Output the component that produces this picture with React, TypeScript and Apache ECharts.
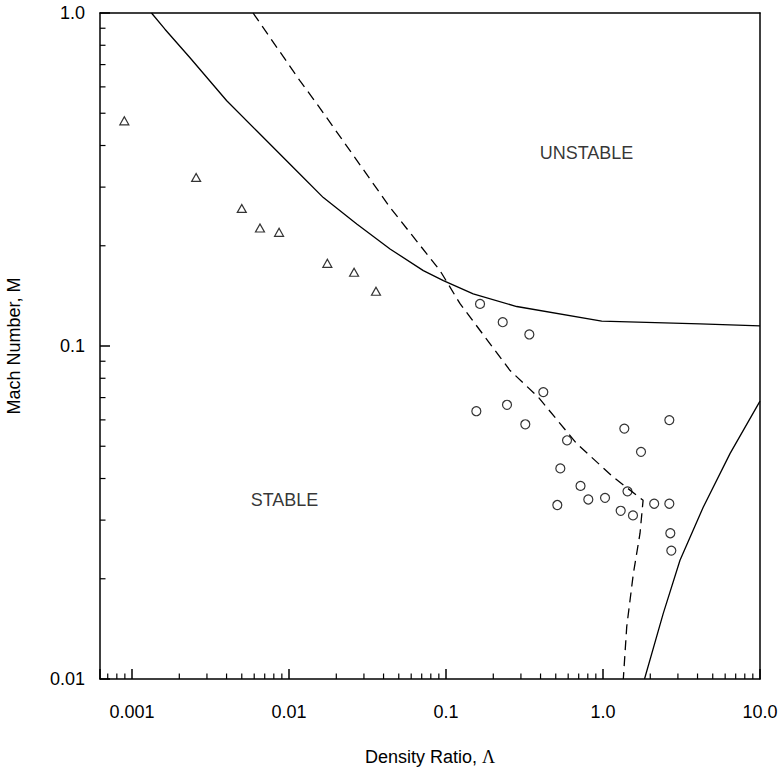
import React, { useEffect, useRef } from "react";
import * as echarts from "echarts";

// Axis ticks and labels
const xTickValues = [0.001, 0.01, 0.1, 1, 10];
const xTickLabels = ["0.001", "0.01", "0.1", "1.0", "10.0"];
const yTickValues = [0.01, 0.1, 1];
const yTickLabels = ["0.01", "0.1", "1.0"];
const xMinorTicks = [
  0.0007, 0.0008, 0.0009,
  0.002, 0.003, 0.004, 0.005, 0.006, 0.007, 0.008, 0.009,
  0.02, 0.03, 0.04, 0.05, 0.06, 0.07, 0.08, 0.09,
  0.2, 0.3, 0.4, 0.5, 0.6, 0.7, 0.8, 0.9,
  2, 3, 4, 5, 6, 7, 8, 9,
];
const yMinorTicks = [
  0.02, 0.03, 0.04, 0.05, 0.06, 0.07, 0.08, 0.09,
  0.2, 0.3, 0.4, 0.5, 0.6, 0.7, 0.8, 0.9,
];

// Upper solid boundary
const upperBoundary: [number, number][] = [
  [0.00133, 1.0], [0.00162, 0.894], [0.00234, 0.734], [0.00401, 0.545],
  [0.00622, 0.443], [0.01175, 0.328], [0.01654, 0.279], [0.027, 0.2325],
  [0.044, 0.1956], [0.0717, 0.1684], [0.0962, 0.1572], [0.149, 0.1434],
  [0.282, 0.1314], [0.981, 0.1187], [4.15, 0.1166], [10, 0.115],
];

// Dashed boundary
const dashedBoundary: [number, number][] = [
  [0.0059, 1.0], [0.01175, 0.6253], [0.01537, 0.5263], [0.044, 0.2607],
  [0.0916, 0.1684], [0.1228, 0.134], [0.256, 0.0844], [0.387, 0.0702],
  [0.68, 0.0509], [1.163, 0.0404], [1.8, 0.0344], [1.721, 0.0274],
  [1.56, 0.0207], [1.416, 0.01435], [1.347, 0.01],
];

// Lower-right solid boundary
const lowerBoundary: [number, number][] = [
  [1.838, 0.01], [2.42, 0.01574], [3.093, 0.02274], [4.355, 0.03286],
  [6.44, 0.0475], [10, 0.0683],
];

// Triangle data
const triangles: [number, number][] = [
  [0.000893, 0.4744], [0.00256, 0.3208], [0.005, 0.2589], [0.00653, 0.2262],
  [0.00864, 0.2194], [0.01754, 0.1771], [0.02596, 0.1665], [0.0358, 0.146],
];

// Circle data
const circles: [number, number][] = [
  [0.1647, 0.1338], [0.2297, 0.1179], [0.3394, 0.1083], [0.4166, 0.0727],
  [0.156, 0.0637], [0.2446, 0.0666], [0.3199, 0.0582], [0.59, 0.0521],
  [1.367, 0.0565], [2.645, 0.0599], [1.746, 0.0481], [0.5347, 0.0429],
  [0.719, 0.038], [0.5116, 0.0333], [0.806, 0.0346], [1.03, 0.035],
  [1.432, 0.0366], [1.296, 0.032], [1.552, 0.031], [2.118, 0.0336],
  [2.645, 0.0336], [2.684, 0.0274], [2.723, 0.0243],
];

// Region labels
const regionLabels = [
  { name: "UNSTABLE", value: [0.785, 0.379] },
  { name: "STABLE", value: [0.00936, 0.0345] },
];

const X_MIN = 0.000625;
const X_MAX = 10;
const Y_MIN = 0.01;
const Y_MAX = 1;

const FONT = "'Liberation Sans', Arial, Helvetica, sans-serif";

function lookupLabel(v: number, values: number[], labels: string[]) {
  const lg = Math.log10(v);
  if (Math.abs(lg - Math.round(lg)) > 1e-6) return "";
  const r = Math.round(lg);
  for (let i = 0; i < values.length; i++) {
    if (Math.round(Math.log10(values[i])) === r) return labels[i];
  }
  return "";
}

export default function App() {
  const ref = useRef<HTMLDivElement>(null);

  useEffect(() => {
    if (!ref.current) return;
    const chart = echarts.init(ref.current, undefined, { renderer: "svg" });

    const axisLine = { show: true, lineStyle: { color: "#000", width: 1.5 } };

    const option: any = {
      animation: false,
      grid: {
        left: 100,
        right: 20,
        top: 13,
        bottom: 93,
        outerBoundsMode: "none",
        containLabel: false,
      },
      xAxis: [
        {
          type: "log",
          min: X_MIN,
          max: X_MAX,
          position: "bottom",
          name: "Density Ratio, {g|Λ}",
          nameLocation: "middle",
          nameGap: 69,
          nameTextStyle: {
            color: "#000",
            fontSize: 18,
            fontFamily: FONT,
            rich: {
              g: { fontFamily: "'Liberation Serif', 'DejaVu Serif', serif", fontSize: 18, color: "#000" },
            },
          },
          axisLine,
          axisTick: { show: true, inside: true, length: 10, lineStyle: { color: "#000", width: 1.5 } },
          splitLine: { show: false },
          axisLabel: {
            color: "#000",
            fontSize: 18,
            fontFamily: FONT,
            margin: 24,
            formatter: (v: number) => lookupLabel(v, xTickValues, xTickLabels),
          },
        },
        {
          type: "log",
          min: X_MIN,
          max: X_MAX,
          position: "top",
          axisLine,
          axisTick: { show: false },
          axisLabel: { show: false },
          splitLine: { show: false },
        },
      ],
      yAxis: [
        {
          type: "log",
          min: Y_MIN,
          max: Y_MAX,
          position: "left",
          name: "Mach Number, M",
          nameLocation: "middle",
          nameGap: 77,
          nameTextStyle: { color: "#000", fontSize: 18, fontFamily: FONT },
          axisLine,
          axisTick: { show: true, inside: true, length: 10, lineStyle: { color: "#000", width: 1.5 } },
          splitLine: { show: false },
          axisLabel: {
            color: "#000",
            fontSize: 18,
            fontFamily: FONT,
            margin: 15,
            formatter: (v: number) => lookupLabel(v, yTickValues, yTickLabels),
          },
        },
        {
          type: "log",
          min: Y_MIN,
          max: Y_MAX,
          position: "right",
          axisLine,
          axisTick: { show: false },
          axisLabel: { show: false },
          splitLine: { show: false },
        },
      ],
      series: [
        {
          type: "custom",
          name: "xMinor",
          silent: true,
          data: xMinorTicks.map((v) => [v, Y_MIN]),
          renderItem: (params: any, api: any) => {
            const p = api.coord([api.value(0), Y_MIN]);
            return {
              type: "rect",
              shape: { x: p[0] - 0.6, y: p[1] - 5.5, width: 1.2, height: 5.5 },
              style: { fill: "#000" },
            };
          },
        },
        {
          type: "custom",
          name: "yMinor",
          silent: true,
          data: yMinorTicks.map((v) => [X_MIN, v]),
          renderItem: (params: any, api: any) => {
            const p = api.coord([X_MIN, api.value(1)]);
            return {
              type: "rect",
              shape: { x: p[0], y: p[1] - 0.6, width: 5.5, height: 1.2 },
              style: { fill: "#000" },
            };
          },
        },
        {
          type: "line",
          name: "upper",
          data: upperBoundary,
          showSymbol: false,
          symbol: "none",
          lineStyle: { color: "#000", width: 1.3 },
        },
        {
          type: "line",
          name: "dashed",
          data: dashedBoundary,
          showSymbol: false,
          symbol: "none",
          lineStyle: { color: "#000", width: 1.3, type: [10, 6] },
        },
        {
          type: "line",
          name: "lower",
          data: lowerBoundary,
          showSymbol: false,
          symbol: "none",
          lineStyle: { color: "#000", width: 1.3 },
        },
        {
          type: "scatter",
          name: "triangles",
          data: triangles,
          symbol: "triangle",
          symbolSize: [9, 8],
          itemStyle: { color: "#fff", borderColor: "#000", borderWidth: 1.2 },
        },
        {
          type: "scatter",
          name: "circles",
          data: circles,
          symbol: "circle",
          symbolSize: 9,
          itemStyle: { color: "rgba(255,255,255,0)", borderColor: "#000", borderWidth: 1.2 },
        },
        {
          type: "scatter",
          name: "regions",
          data: regionLabels,
          symbolSize: 0,
          silent: true,
          label: {
            show: true,
            position: "inside",
            formatter: (p: any) => p.name,
            color: "#000",
            fontSize: 18,
            fontFamily: FONT,
          },
        },
      ],
    };

    chart.setOption(option);
    return () => chart.dispose();
  }, []);

  return (
    <div
      ref={ref}
      style={{ position: "fixed", left: 0, top: 0, width: 780, height: 772, background: "#fff" }}
    />
  );
}
